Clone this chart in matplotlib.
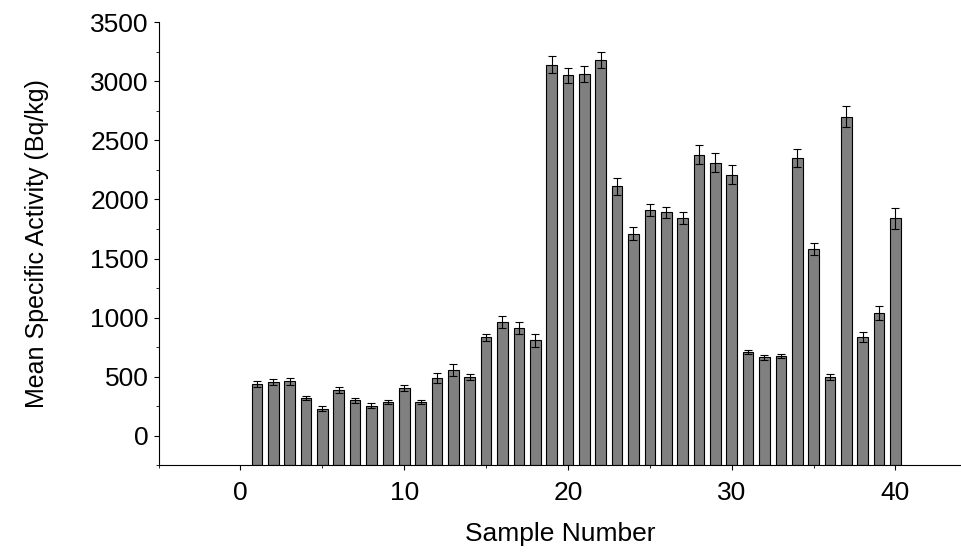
import matplotlib
matplotlib.use("Agg")
import matplotlib.pyplot as plt
from matplotlib.ticker import MultipleLocator

samples = list(range(1, 41))
values = [440, 455, 460, 320, 230, 385, 300, 255, 285, 405,
          285, 490, 555, 495, 835, 960, 910, 810, 3140, 3050,
          3060, 3180, 2110, 1710, 1910, 1890, 1845, 2380, 2310, 2210,
          710, 665, 675, 2350, 1580, 495, 2700, 835, 1040, 1840]
errors = [25, 25, 30, 20, 20, 25, 20, 20, 20, 25,
          20, 45, 50, 25, 30, 50, 50, 55, 70, 65,
          70, 70, 70, 55, 50, 50, 50, 80, 80, 80,
          20, 20, 20, 75, 50, 25, 90, 40, 60, 90]
baseline = -250

plt.rcParams['font.family'] = ['Liberation Sans', 'DejaVu Sans']
fig = plt.figure(figsize=(9.61, 5.54), dpi=100)
ax = fig.add_axes([0.165, 0.16, 0.835, 0.80])
heights = [v - baseline for v in values]
ax.bar(samples, heights, bottom=baseline, width=0.65, color='#808080',
       edgecolor='black', linewidth=0.8)
ax.errorbar(samples, values, yerr=errors, fmt='none', ecolor='black',
            elinewidth=0.8, capsize=3, capthick=0.8)
ax.set_xlim(-5, 44)
ax.set_ylim(-250, 3500)
ax.xaxis.set_major_locator(MultipleLocator(10))
ax.xaxis.set_minor_locator(MultipleLocator(5))
ax.yaxis.set_major_locator(MultipleLocator(500))
ax.yaxis.set_minor_locator(MultipleLocator(250))
ax.spines['top'].set_visible(False)
ax.spines['right'].set_visible(False)
ax.tick_params(labelsize=19, direction='out')
ax.tick_params(axis='x', pad=8)
ax.set_xlabel('Sample Number', fontsize=19, labelpad=12)
ax.set_ylabel('Mean Specific Activity (Bq/kg)', fontsize=18, labelpad=30)
fig.savefig('out.png', dpi=100)
